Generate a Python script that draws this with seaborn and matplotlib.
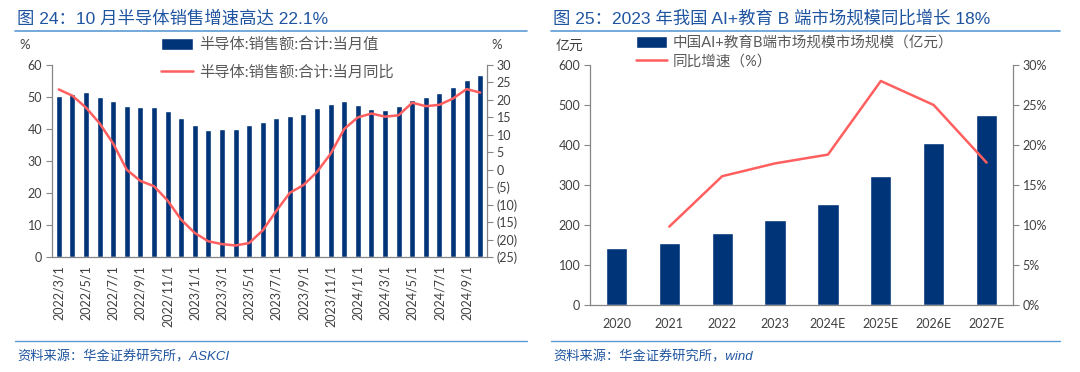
import matplotlib
matplotlib.use("Agg")
import matplotlib.pyplot as plt
import matplotlib.ticker as mticker
from matplotlib.lines import Line2D
import numpy as np
import pandas as pd
import seaborn as sns

# ---- data: left chart (semiconductor monthly sales) ----
months = [d.strftime("%Y/%-m/1") for d in pd.date_range("2022-03-01", "2024-10-01", freq="MS")]
sales = [50.4, 50.8, 51.5, 50.0, 48.9, 47.1, 46.9, 46.9, 45.5, 43.5, 41.2, 39.7,
         39.9, 40.0, 41.1, 42.2, 43.3, 44.0, 44.8, 46.5, 47.9, 48.6, 47.6, 46.1,
         45.8, 47.1, 49.1, 49.9, 51.3, 53.0, 55.2, 56.8]
sales_yoy = [23.0, 21.2, 17.8, 13.3, 7.5, 0.0, -3.2, -4.7, -8.8, -14.3, -18.1, -20.5,
             -21.3, -21.7, -21.0, -17.4, -11.8, -6.6, -4.4, -0.6, 4.6, 11.7, 15.0, 16.1,
             15.2, 15.6, 19.2, 18.2, 18.6, 20.4, 23.1, 22.1]
month_ticklabels = months[::2]

# ---- data: right chart (AI+education B-side market) ----
years = ["2020", "2021", "2022", "2023", "2024E", "2025E", "2026E", "2027E"]
market = [142, 156, 181, 212, 252, 323, 404, 476]
market_yoy = [np.nan, 9.8, 16.1, 17.7, 18.8, 28.0, 25.0, 17.8]

BAR = "#003478"
LINE = "#FF5F5F"
TITLE = "#1F55A0"
RULE = "#5B9BD5"
SPINE = "#868686"
TXT = "#404040"

sns.set_style("white")
plt.rcParams["font.family"] = ["Lato", "Noto Sans CJK SC", "DejaVu Sans"]
plt.rcParams["axes.unicode_minus"] = False

W, H = 1080, 372
fig = plt.figure(figsize=(W / 100, H / 100), dpi=100)


def fx(x):
    return x / W


def fy(y):
    return 1 - y / H


def style_axes(ax, ax2):
    for s in ["top", "right"]:
        ax.spines[s].set_visible(False)
    for s in ["top", "left", "bottom"]:
        ax2.spines[s].set_visible(False)
    for sp in [ax.spines["left"], ax.spines["bottom"], ax2.spines["right"]]:
        sp.set_color(SPINE)
        sp.set_linewidth(0.9)
    ax.tick_params(axis="y", direction="out", length=4, color=SPINE, labelsize=9, labelcolor=TXT, pad=3)
    ax2.tick_params(axis="y", direction="out", length=4, color=SPINE, labelsize=9, labelcolor=TXT, pad=3)
    ax.tick_params(axis="x", which="major", direction="out", length=4, color=SPINE)
    ax.tick_params(axis="x", which="minor", length=0, labelsize=9, labelcolor=TXT)
    ax.set_xlabel("")
    ax.set_ylabel("")
    ax2.set_ylabel("")


def combined_legend(ax, axb, anchor, spacing, size):
    h1, l1 = ax.get_legend_handles_labels()
    h2, l2 = axb.get_legend_handles_labels()
    for a in (ax, axb):
        if a.get_legend():
            a.get_legend().remove()
    fig.legend(h1 + h2, l1 + l2, loc="upper left", bbox_to_anchor=anchor,
               frameon=False, fontsize=size, labelcolor="#595959", handlelength=2.1,
               handleheight=0.8, handletextpad=0.4, labelspacing=spacing,
               borderpad=0, borderaxespad=0)


def header(x0, x1, title, source):
    fig.text(fx(x0 + 2), fy(18), title, fontsize=12.5, color=TITLE, va="center", ha="left",
             family=["Liberation Sans", "Noto Sans CJK SC"])
    fig.add_artist(Line2D([fx(x0), fx(x1)], [fy(31), fy(31)], color=RULE, lw=1.2))
    fig.add_artist(Line2D([fx(x0), fx(x1)], [fy(341), fy(341)], color=RULE, lw=1.0))
    fig.text(fx(x0 + 2), fy(357), source, fontsize=9.5, color=TITLE, va="center", ha="left",
             style="italic", family=["Liberation Sans", "Noto Sans CJK SC"])


# ================= left chart =================
ax1 = fig.add_axes([fx(52), fy(257), fx(487 - 52), (257 - 65) / H])
sns.barplot(x=months, y=sales, ax=ax1, color=BAR, width=0.44, saturation=1,
            label="半导体:销售额:合计:当月值")
ax1b = ax1.twinx()
sns.lineplot(x=np.arange(len(months)), y=sales_yoy, ax=ax1b, color=LINE, lw=1.8,
             label="半导体:销售额:合计:当月同比")
ax1.set_xlim(-0.5, len(months) - 0.5)
ax1.set_ylim(0, 60)
ax1.set_yticks(range(0, 61, 10))
ax1b.set_ylim(-25, 30)
ax1b.set_yticks(range(-25, 31, 5))
ax1b.yaxis.set_major_formatter(mticker.FuncFormatter(
    lambda v, p: f"({abs(v):.0f})" if v < 0 else f"{v:.0f}"))
ax1.set_xticks(np.arange(-0.5, len(months), 2))
ax1.set_xticklabels([])
ax1.set_xticks(np.arange(0, len(months), 2), minor=True)
ax1.set_xticklabels(month_ticklabels, minor=True, rotation=90)
style_axes(ax1, ax1b)
ax1.tick_params(axis="x", which="minor", pad=6)
combined_legend(ax1, ax1b, (fx(161), fy(38)), 0.85, 11)

fig.text(fx(25), fy(45), "%", fontsize=9.5, color=TXT, ha="center", va="center")
fig.text(fx(497), fy(45), "%", fontsize=9.5, color=TXT, ha="center", va="center")
header(15, 527, "图 24：10 月半导体销售增速高达 22.1%", "资料来源：华金证券研究所，ASKCI")

# ================= right chart =================
ax2 = fig.add_axes([fx(590), fy(305), fx(1013 - 590), (305 - 65) / H])
sns.barplot(x=years, y=market, ax=ax2, color=BAR, width=0.40, saturation=1,
            label="中国AI+教育B端市场规模市场规模（亿元）")
ax2b = ax2.twinx()
sns.lineplot(x=np.arange(len(years)), y=market_yoy, ax=ax2b, color=LINE, lw=1.8,
             label="同比增速（%）")
ax2.set_xlim(-0.5, len(years) - 0.5)
ax2.set_ylim(0, 600)
ax2.set_yticks(range(0, 601, 100))
ax2b.set_ylim(0, 30)
ax2b.set_yticks(range(0, 31, 5))
ax2b.yaxis.set_major_formatter(mticker.FuncFormatter(lambda v, p: f"{v:.0f}%"))
ax2.set_xticks(np.arange(-0.5, len(years), 1))
ax2.set_xticklabels([])
ax2.set_xticks(np.arange(0, len(years)), minor=True)
ax2.set_xticklabels(years, minor=True)
style_axes(ax2, ax2b)
ax2.tick_params(axis="x", which="minor", pad=9)
combined_legend(ax2, ax2b, (fx(636), fy(36)), 0.3, 10.5)

fig.text(fx(569), fy(45), "亿元", fontsize=10, color=TXT, ha="center", va="center")
header(551, 1060, "图 25：2023 年我国 AI+教育 B 端市场规模同比增长 18%", "资料来源：华金证券研究所，wind")

fig.savefig("out.png", dpi=100)
